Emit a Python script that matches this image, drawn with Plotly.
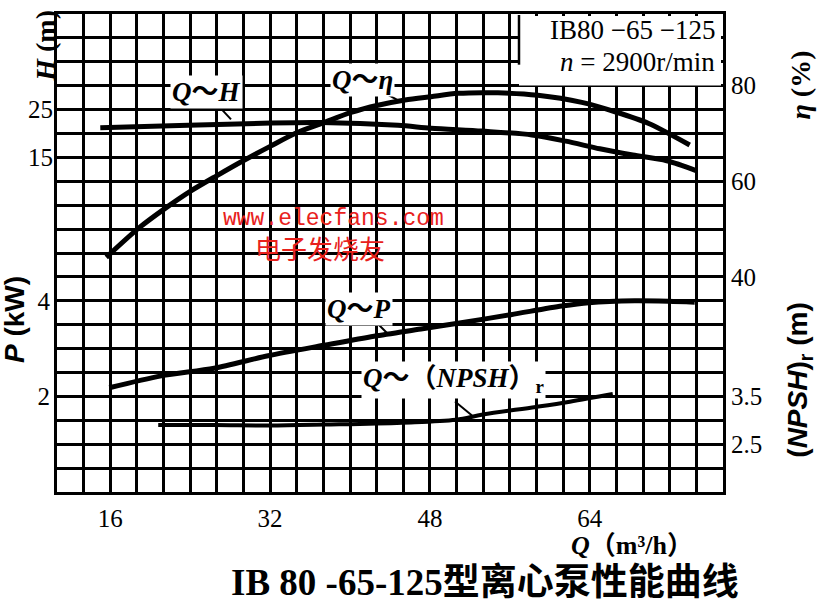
import plotly.graph_objects as go

# ---------------- data ----------------
q_head = [15.0, 23.8, 32.1, 37.1, 44.8, 48.1, 53.2, 58.2, 61.6, 65.0, 68.3, 71.7, 74.7]
head = [21.2, 21.7, 22.2, 22.3, 21.7, 21.1, 20.5, 19.7, 18.4, 16.8, 15.5, 14.3, 12.2]

q_eff = [15.6, 18.9, 21.6, 24.0, 26.6, 29.3, 32.0, 34.6, 37.3, 40.1, 42.8, 45.5, 48.1,
         50.8, 54.8, 58.8, 63.2, 66.6, 69.9, 74.0]
eff = [44.1, 50.3, 54.5, 57.9, 61.1, 64.3, 67.3, 70.1, 72.2, 74.4, 75.9, 77.0, 77.7,
       78.4, 78.5, 78.0, 76.5, 74.5, 72.1, 67.6]

q_power = [15.9, 21.1, 26.4, 31.8, 37.4, 42.4, 47.1, 50.8, 56.1, 61.2, 63.9, 68.5, 71.9, 74.5]
power = [2.18, 2.43, 2.59, 2.85, 3.07, 3.26, 3.41, 3.53, 3.71, 3.89, 3.96, 4.00, 3.99, 3.97]

q_npsh = [20.8, 26.5, 31.9, 37.5, 45.2, 50.6, 53.3, 58.6, 62.0, 66.3]
npsh = [2.90, 2.90, 2.89, 2.91, 2.95, 3.01, 3.12, 3.28, 3.39, 3.55]

q_ticks = [16, 32, 48, 64]
head_ticks = [15, 25]
power_ticks = [2, 4]
eff_ticks = [40, 60, 80]
npsh_ticks = [2.5, 3.5]

# ---------------- layout geometry ----------------
W, H = 821, 603
L, R, T, B = 57, 723, 11, 492
PW, PH = R - L, B - T


def px(x):
    return (x - L) / PW


def py(y):
    return (B - y) / PH


SERIF = "Liberation Serif, 'Noto Sans CJK SC', serif"
SANS = "Liberation Sans, 'Noto Sans CJK SC', sans-serif"
CJK = "'Noto Sans CJK SC', sans-serif"

# grid of the chart paper: 25 columns x 20 rows
q_step = 8 / 3
q_min, q_max = 16 - 2 * q_step, 16 + 23 * q_step
grid_q = [q_min + i * q_step for i in range(26)]
grid_q_text = [str(int(round(v))) if any(abs(v - t) < 1e-6 for t in q_ticks) else "" for v in grid_q]

line_style = dict(color="black", width=5, shape="spline", smoothing=0.8)

fig = go.Figure()
fig.add_trace(go.Scatter(x=[], y=[], xaxis="x", yaxis="y", showlegend=False))
fig.add_trace(go.Scatter(x=q_head, y=head, mode="lines", line=line_style, yaxis="y2", name="Q~H"))
fig.add_trace(go.Scatter(x=q_eff, y=eff, mode="lines", line=line_style, yaxis="y4", name="Q~η"))
fig.add_trace(go.Scatter(x=q_power, y=power, mode="lines", line=line_style, yaxis="y3", name="Q~P"))
fig.add_trace(go.Scatter(x=q_npsh, y=npsh, mode="lines", line=dict(color="black", width=4, shape="spline"),
                         yaxis="y5", name="Q~(NPSH)r"))

tickfont = dict(family=SERIF, size=25, color="black")

fig.update_layout(
    width=W, height=H,
    margin=dict(l=L, r=W - R, t=T, b=H - B),
    paper_bgcolor="white", plot_bgcolor="white",
    showlegend=False,
    xaxis=dict(range=[q_min, q_max], tickmode="array", tickvals=grid_q, ticktext=grid_q_text,
               showgrid=True, gridcolor="black", gridwidth=2.5, zeroline=False,
               showline=True, linecolor="black", linewidth=3, mirror=True,
               ticks="", tickfont=tickfont, ticklabelstandoff=2),
    yaxis=dict(range=[0, 20], dtick=1, tick0=0, showgrid=True, gridcolor="black", gridwidth=2.5,
               zeroline=False, showline=True, linecolor="black", linewidth=3, mirror=True,
               showticklabels=False, ticks=""),
    yaxis2=dict(range=[-55, 45], overlaying="y", side="left", anchor="x", tickmode="array",
                tickvals=head_ticks, ticktext=[str(v) for v in head_ticks], showgrid=False,
                zeroline=False, showline=False, ticks="", tickfont=tickfont, ticklabelstandoff=3),
    yaxis3=dict(range=[0, 10], overlaying="y", side="left", anchor="x", tickmode="array",
                tickvals=power_ticks, ticktext=[str(v) for v in power_ticks], showgrid=False,
                zeroline=False, showline=False, ticks="", tickfont=tickfont, ticklabelstandoff=6),
    yaxis4=dict(range=[-5, 95], overlaying="y", side="right", anchor="x", tickmode="array",
                tickvals=eff_ticks, ticktext=[str(v) for v in eff_ticks], showgrid=False,
                zeroline=False, showline=False, ticks="", tickfont=tickfont, ticklabelstandoff=7),
    yaxis5=dict(range=[1.5, 11.5], overlaying="y", side="right", anchor="x", tickmode="array",
                tickvals=npsh_ticks, ticktext=[str(v) for v in npsh_ticks], showgrid=False,
                zeroline=False, showline=False, ticks="", tickfont=tickfont, ticklabelstandoff=7),
)

shapes = []
# white panel behind the model caption (top right)
shapes.append(dict(type="rect", xref="paper", yref="paper", x0=px(519), x1=px(721), y0=py(83), y1=py(13),
                   fillcolor="white", line=dict(width=0), layer="above"))
shapes.append(dict(type="line", xref="paper", yref="paper", x0=px(519), x1=px(519), y0=py(62), y1=py(12),
                   line=dict(color="black", width=2.5), layer="above"))
# leader lines from labels to curves
for (x0, y0, x1, y1) in [(218, 103, 231, 117), (384, 90, 400, 99), (377, 322, 388, 333), (455, 401, 472, 415)]:
    shapes.append(dict(type="line", xref="paper", yref="paper", x0=px(x0), y0=py(y0), x1=px(x1), y1=py(y1),
                       line=dict(color="black", width=2), layer="above"))
fig.update_layout(shapes=shapes)


def ann(text, x, y, size, family=SERIF, color="black", angle=0, bg=None, xanchor="center", yanchor="middle"):
    d = dict(text=text, xref="paper", yref="paper", x=px(x), y=py(y), showarrow=False,
             font=dict(family=family, size=size, color=color), textangle=angle,
             xanchor=xanchor, yanchor=yanchor)
    if bg:
        d.update(bgcolor=bg, borderpad=1)
    return d


annotations = [
    # axis titles
    ann("<b><i>H</i> (m)</b>", 46, 43, 28, angle=-90),
    ann("<b><i>P</i> (kW)</b>", 14, 319, 28, family=SANS, angle=-90),
    ann("<b><i>η</i> (%)</b>", 801, 82, 28, angle=-90),
    ann("<b>(<i>NPSH</i>)<sub>r</sub> (m)</b>", 800, 380, 28, family=SANS, angle=-90),
    ann("<b><i>Q</i>（m³/h）</b>", 632, 546, 26),
    # chart title
    ann("<b>IB 80 -65-125型离心泵性能曲线</b>", 485, 583, 37),
    # model caption
    ann("IB80 −65 −125", 717, 44, 27, xanchor="right", yanchor="bottom"),
    ann("<i>n</i> = 2900r/min", 717, 42, 27, xanchor="right", yanchor="top"),
    # curve labels
    ann("<b><i>Q</i>～<i>H</i></b>", 206, 89, 27, bg="white"),
    ann("<b><i>Q</i>～<i>η</i></b>", 362, 77, 27, bg="white"),
    ann("<b><i>Q</i>～<i>P</i></b>", 359, 308, 27, bg="white"),
    ann("<b><i>Q</i>～（<i>NPSH</i>）<sub>r</sub></b>", 453, 379, 27, bg="white"),
    # watermark
    ann("www.elecfans.com", 333, 217, 23, family="Liberation Mono, monospace", color="#e8211c"),
    ann("电子发烧友", 320, 246, 26, family=CJK, color="#e8211c"),
]
fig.update_layout(annotations=annotations)

fig.write_html("out.html", config={"displayModeBar": False},
               post_script="document.body.style.margin='0px';")
